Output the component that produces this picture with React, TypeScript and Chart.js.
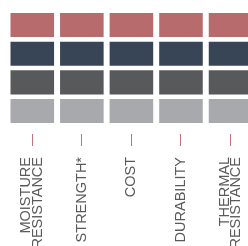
import React, { useEffect, useRef } from "react";
import { Chart, registerables } from "chart.js";

Chart.register(...registerables);

const categories: (string | string[])[] = [
  ["MOISTURE", "RESISTANCE"],
  "STRENGTH*",
  "COST",
  "DURABILITY",
  ["THERMAL", "RESISTANCE"],
];

// Stacked bottom -> top
const lightGrayValues = [1, 1, 1, 1, 1];
const darkGrayValues = [1, 1, 1, 1, 1];
const navyValues = [1, 1, 1, 1, 1];
const roseValues = [1, 1, 1, 1, 1];

const FONT_SIZE = 14.5;
const LINE_HEIGHT = 0.814;
const LH = FONT_SIZE * LINE_HEIGHT;

export default function App() {
  const ref = useRef<HTMLCanvasElement | null>(null);

  useEffect(() => {
    if (!ref.current) return;
    const mk = (label: string, data: number[], color: string) => ({
      label,
      data,
      backgroundColor: color,
      borderColor: "#ffffff",
      borderWidth: 2.3,
      borderSkipped: false as const,
      barPercentage: 0.972,
      categoryPercentage: 1,
    });
    const chart = new Chart(ref.current, {
      type: "bar",
      data: {
        labels: categories,
        datasets: [
          mk("Level 4", lightGrayValues, "#a8a9ad"),
          mk("Level 3", darkGrayValues, "#58595b"),
          mk("Level 2", navyValues, "#384556"),
          mk("Level 1", roseValues, "#b76b6d"),
        ],
      },
      options: {
        animation: false,
        responsive: false,
        layout: { padding: { top: 10.7, left: 7.5, right: 8.5, bottom: 0 } },
        plugins: { legend: { display: false }, tooltip: { enabled: false } },
        scales: {
          x: {
            stacked: true,
            offset: true,
            border: { display: false },
            grid: {
              offset: false,
              drawOnChartArea: false,
              drawTicks: true,
              tickLength: 12,
              color: "#c0767a",
              lineWidth: 1,
            },
            ticks: {
              autoSkip: false,
              minRotation: 90,
              maxRotation: 90,
              padding: 11,
              labelOffset: -LH / 2,
              showLabelBackdrop: (ctx: any) => !Array.isArray(ctx.tick?.label),
              backdropColor: "rgba(0,0,0,0)",
              color: "#5a5a5a",
              font: { family: "'Liberation Sans', Arial, sans-serif", size: FONT_SIZE, lineHeight: LINE_HEIGHT },
            },
            afterFit: (s: any) => {
              s.height = 166;
            },
          },
          y: {
            stacked: true,
            display: false,
            min: -0.3,
            max: 4,
          },
        },
      },
    });
    return () => chart.destroy();
  }, []);

  return (
    <div
      style={{
        position: "fixed",
        left: 0,
        top: 0,
        width: 248,
        height: 246,
        overflow: "hidden",
        background: "#ffffff",
      }}
    >
      <canvas ref={ref} width={266} height={300} style={{ display: "block", width: 266, height: 300 }} />
    </div>
  );
}
